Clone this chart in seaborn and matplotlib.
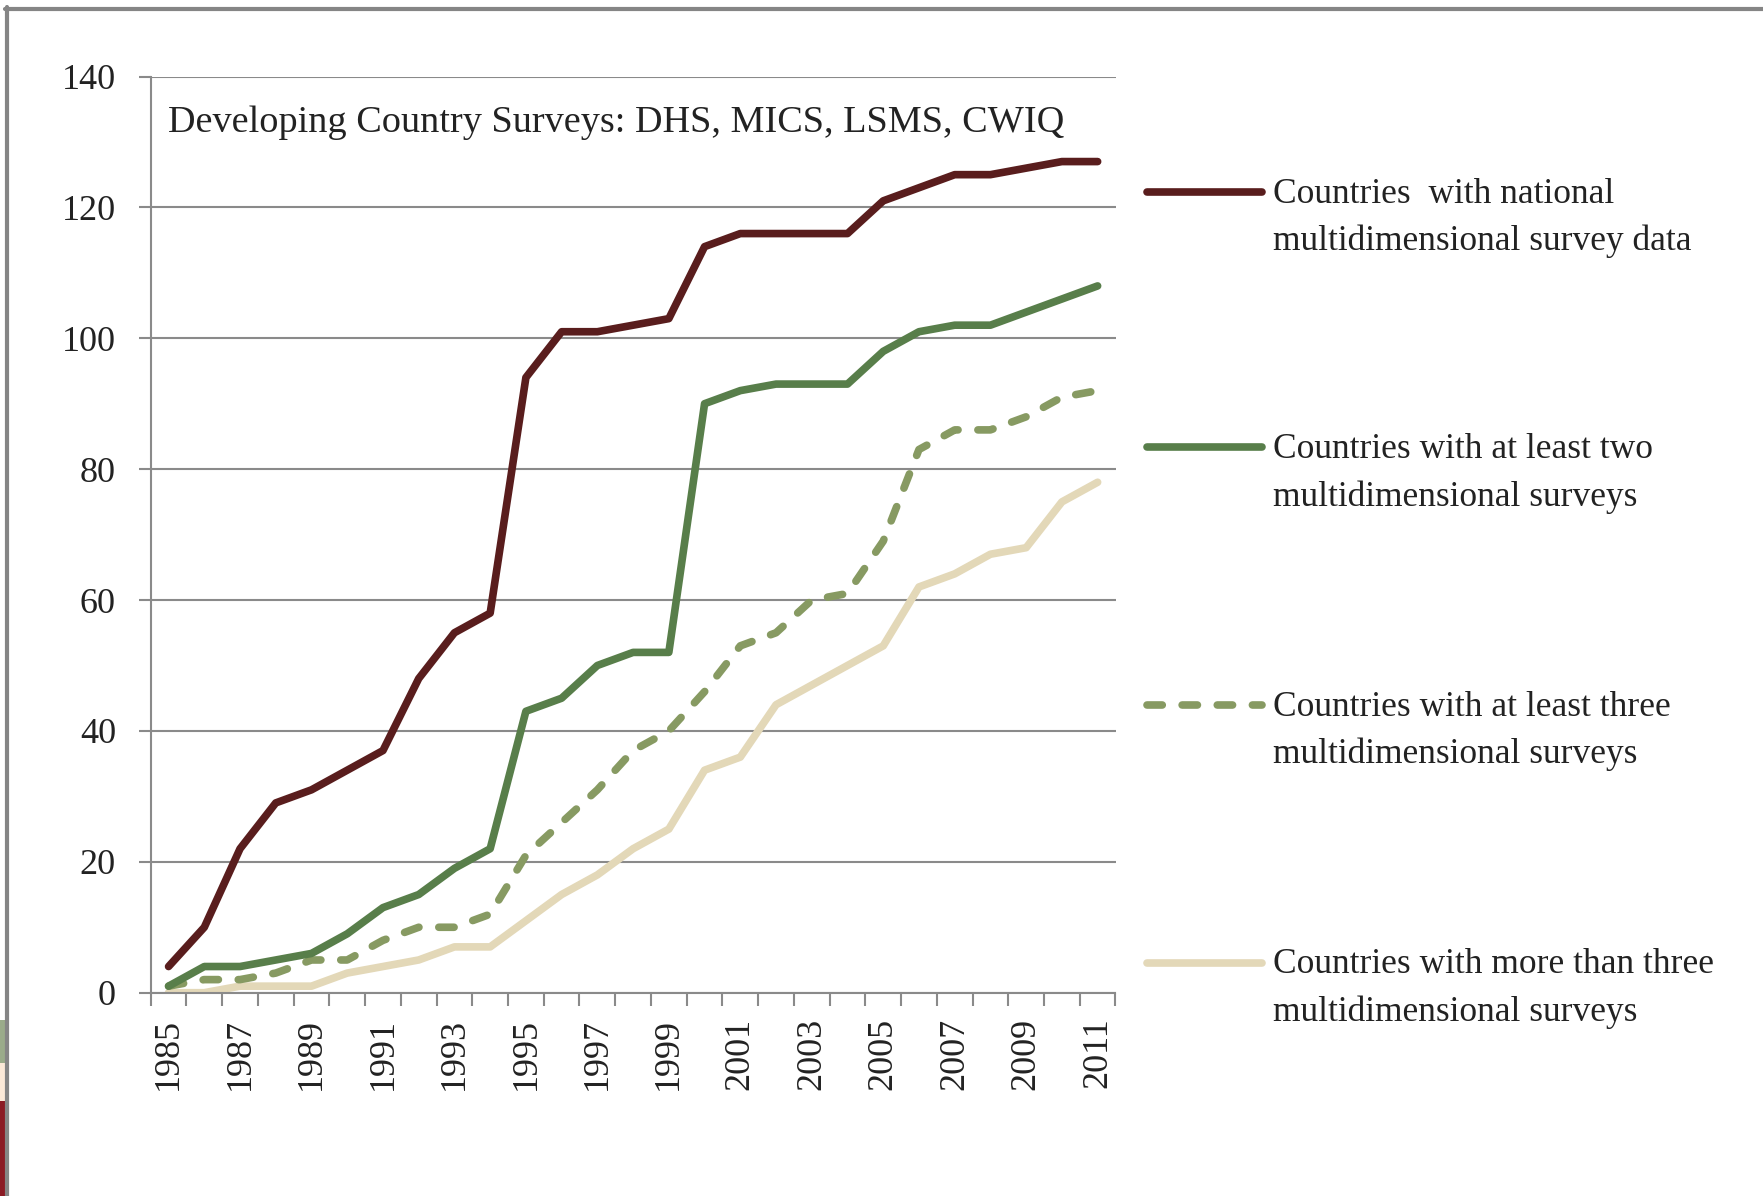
import numpy as np
import pandas as pd
import matplotlib
matplotlib.use("Agg")
import matplotlib.pyplot as plt
from matplotlib.lines import Line2D
from matplotlib.patches import Rectangle
import seaborn as sns

# Data (number of countries per year)
years = list(range(1985, 2012))
national = [4, 10, 22, 29, 31, 34, 37, 48, 55, 58, 94, 101, 101, 102, 103, 114,
            116, 116, 116, 116, 121, 123, 125, 125, 126, 127, 127]
at_least_two = [1, 4, 4, 5, 6, 9, 13, 15, 19, 22, 43, 45, 50, 52, 52, 90,
                92, 93, 93, 93, 98, 101, 102, 102, 104, 106, 108]
at_least_three = [1, 2, 2, 3, 5, 5, 8, 10, 10, 12, 21, 26, 31, 37, 40, 46,
                  53, 55, 60, 61, 69, 83, 86, 86, 88, 91, 92]
more_than_three = [0, 0, 1, 1, 1, 3, 4, 5, 7, 7, 11, 15, 18, 22, 25, 34,
                   36, 44, 47, 50, 53, 62, 64, 67, 68, 75, 78]

labels = ["Countries  with national\nmultidimensional survey data",
          "Countries with at least two\nmultidimensional surveys",
          "Countries with at least three\nmultidimensional surveys",
          "Countries with more than three\nmultidimensional surveys"]
colors = ["#591d1d", "#587e4a", "#879a62", "#e3d8b8"]
styles = ["-", "-", (0, (2.0, 2.6)), "-"]
title = "Developing Country Surveys: DHS, MICS, LSMS, CWIQ"

df = pd.DataFrame({"year": years, "s0": national, "s1": at_least_two,
                   "s2": at_least_three, "s3": more_than_three})

sns.set_theme(style="white")
plt.rcParams["font.family"] = ["Liberation Serif", "DejaVu Serif"]
text_color = "#222222"
grid_color = "#8a8a8a"

W, H = 1763, 1196
fig = plt.figure(figsize=(W / 100, H / 100), dpi=100)
ax = fig.add_axes([150.7 / W, 1 - 992.7 / H, 964.8 / W, (992.7 - 76.5) / H])

for i, key in enumerate(["s0", "s1", "s2", "s3"]):
    sns.lineplot(data=df, x="year", y=key, ax=ax, color=colors[i], lw=5.5,
                 legend=False, zorder=5 - i)
    ln = ax.lines[-1]
    ln.set_linestyle(styles[i])
    ln.set_dash_capstyle("round")
    ln.set_solid_capstyle("round")

ax.set_xlim(years[0] - 0.5, years[-1] + 0.5)
ax.set_ylim(0, 140)
ax.set_yticks(range(0, 141, 20))
ax.yaxis.grid(True, color=grid_color, lw=1.5)
ax.set_axisbelow(True)

ax.set_xticks(years[::2])
ax.set_xticklabels([str(y) for y in years[::2]], rotation=90)
ax.set_xticks(np.arange(years[0] - 0.5, years[-1] + 1), minor=True)
ax.tick_params(axis="x", which="major", length=0, pad=18, labelsize=26,
               labelcolor=text_color)
ax.tick_params(axis="x", which="minor", length=9, width=1.5, color=grid_color,
               direction="out", bottom=True)
ax.tick_params(axis="y", length=9, width=1.5, color=grid_color, left=True,
               pad=16, labelsize=26, labelcolor=text_color)
ax.set_xlabel("")
ax.set_ylabel("")

for side in ["top", "right"]:
    ax.spines[side].set_visible(False)
for side in ["left", "bottom"]:
    ax.spines[side].set_color(grid_color)
    ax.spines[side].set_linewidth(1.5)

ax.text(0.018, 0.95, title, transform=ax.transAxes, fontsize=27.5,
        color=text_color, va="center", ha="left")

# legend on the right, key aligned with the first text line
legend_y = [192, 447.5, 705, 962.5]
for i, y in enumerate(legend_y):
    fig.add_artist(Line2D([1147 / W, 1262 / W], [1 - y / H, 1 - y / H],
                          transform=fig.transFigure, color=colors[i], lw=5.5,
                          linestyle=styles[i], dash_capstyle="round",
                          solid_capstyle="round"))
    fig.text(1273 / W, 1 - (y + 26) / H, labels[i], fontsize=25.5,
             color=text_color, va="center", ha="left", linespacing=1.55)

# slide frame
fig.add_artist(Line2D([7 / W, 7 / W], [0, 1 - 7 / H], transform=fig.transFigure,
                      color="#858585", lw=3))
fig.add_artist(Line2D([5 / W, 1], [1 - 9 / H, 1 - 9 / H], transform=fig.transFigure,
                      color="#858585", lw=3))
for y0, y1, c in [(1020, 1063, "#9aab8a"), (1063, 1101, "#fbe9d8"), (1101, 1196, "#8b1a24")]:
    fig.add_artist(Rectangle((0, 1 - y1 / H), 5 / W, (y1 - y0) / H,
                             transform=fig.transFigure, color=c, lw=0))

fig.savefig("out.png", dpi=100, facecolor="white")
